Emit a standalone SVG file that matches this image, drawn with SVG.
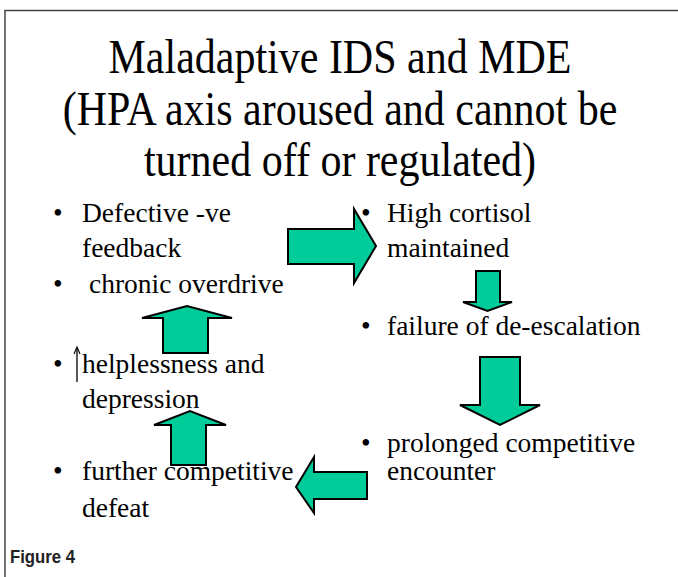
<svg xmlns="http://www.w3.org/2000/svg" width="678" height="577" viewBox="0 0 678 577">
<style>
.title{font-family:"Liberation Serif","Times New Roman",serif;font-size:42px;fill:#000;text-anchor:middle}
.b{font-family:"Liberation Serif","Times New Roman",serif;font-size:27.5px;fill:#000}
.arr{fill:#00CC99;stroke:#000;stroke-width:2;stroke-linejoin:miter}
.fig{font-family:"Liberation Sans",Arial,sans-serif;font-weight:bold;font-size:18px;fill:#222}
</style>
<rect width="678" height="577" fill="#fff"/>
<g id="frame" fill="none" stroke="#444" stroke-width="1.5">
<path d="M5,577 V10.5 H678"/>
</g>
<g id="title">
<text class="title" transform="translate(340,73) scale(1,1.18)">Maladaptive IDS and MDE</text>
<text class="title" transform="translate(340,125) scale(1,1.18)">(HPA axis aroused and cannot be</text>
<text class="title" transform="translate(340,176) scale(1,1.18)">turned off or regulated)</text>
</g>
<g id="node-defective">
<text class="b" x="53" y="222">•</text>
<text class="b" x="82" y="222">Defective -ve</text>
<text class="b" x="82" y="257">feedback</text>
</g>
<g id="node-chronic">
<text class="b" x="53" y="293">•</text>
<text class="b" x="89" y="293">chronic overdrive</text>
</g>
<g id="node-helplessness">
<text class="b" x="53" y="373">•</text>
<line x1="77" y1="348" x2="77" y2="382" stroke="#000" stroke-width="1.3"/>
<polyline points="74,354 77,347 80,354" fill="none" stroke="#000" stroke-width="1.1"/>
<text class="b" x="82" y="373">helplessness and</text>
<text class="b" x="82" y="408">depression</text>
</g>
<g id="node-further">
<text class="b" x="53" y="480">•</text>
<text class="b" x="82" y="480">further competitive</text>
<text class="b" x="82" y="517">defeat</text>
</g>
<g id="node-cortisol">
<text class="b" x="361" y="222">•</text>
<text class="b" x="387" y="222">High cortisol</text>
<text class="b" x="387" y="257">maintained</text>
</g>
<g id="node-failure">
<text class="b" x="361" y="335">•</text>
<text class="b" x="387" y="335">failure of de-escalation</text>
</g>
<g id="node-prolonged">
<text class="b" x="361" y="452">•</text>
<text class="b" x="387" y="452">prolonged competitive</text>
<text class="b" x="387" y="480">encounter</text>
</g>
<g id="connectors">
<polygon class="arr" points="288,229 354,229 354,209 376,246 354,283 354,264 288,264"/>
<polygon class="arr" points="476,271 500,271 500,302 512,302 487.5,311 463,302 476,302"/>
<polygon class="arr" points="480,357 520,357 520,405 540,405 500,425 460,405 480,405"/>
<polygon class="arr" points="367,472 367,499 314,499 314,513 296,487 314,457 314,472"/>
<polygon class="arr" points="171,465 206,465 206,425 226,425 190,411 154,425 171,425"/>
<polygon class="arr" points="163,353 208,353 208,318 232,318 187,306 142,318 163,318"/>
</g>
<g id="caption">
<text class="fig" x="10" y="563" textLength="65" lengthAdjust="spacingAndGlyphs">Figure 4</text>
</g>
</svg>
